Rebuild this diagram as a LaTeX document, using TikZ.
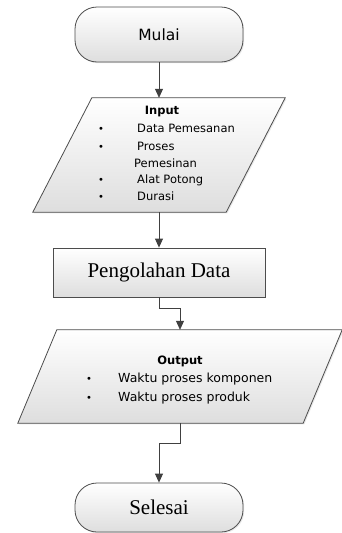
\documentclass[tikz,border=0pt]{standalone}
\usepackage{fontspec}
\setmainfont{Liberation Serif}
\newfontfamily\boxfont{DejaVu Sans}
\usetikzlibrary{calc, positioning, arrows.meta, shadows}

\newcommand{\listdot}{{\fontsize{10}{10}\selectfont\textbullet}}

\tikzset{
  flowfill/.style={draw=black!70, line width=0.8pt, top color=white, bottom color=black!13,
    drop shadow={opacity=0.18, shadow xshift=1.2pt, shadow yshift=-1.2pt}},
  terminal/.style={flowfill, rounded corners=22pt, minimum width=168pt, inner sep=0pt},
  procbox/.style={flowfill, minimum width=212pt, minimum height=49pt, inner sep=0pt},
  ioarea/.style={minimum width=#1, inner sep=0pt},
  conn/.style={draw=black!75, line width=0.8pt, -{Triangle[width=8pt,length=9pt]}},
  bigtext/.style={font=\fontsize{21}{24}\selectfont},
  listtext/.style={anchor=west, inner sep=0pt, font=\boxfont\fontsize{11.5}{14}\selectfont},
  headtext/.style={inner sep=0pt, font=\boxfont\bfseries\fontsize{11.5}{14}\selectfont}
}

\begin{document}
\begin{tikzpicture}[x=1pt, y=-1pt]
  \useasboundingbox (0,0) rectangle (342,533);

  % Start
  \node[terminal, minimum height=55pt, font=\boxfont\fontsize{15.5}{18}\selectfont] (mulai) at (159,34.5) {Mulai};

  % Input
  \node[ioarea=252pt, minimum height=114pt] (inp) at (159,155) {};
  \draw[flowfill] ($(inp.north west)+(59,0)$) -- (inp.north east)
    -- ($(inp.south east)+(-59,0)$) -- (inp.south west) -- cycle;
  \node[headtext] (inhead) at (162,112) {Input};
  \node[listtext] (in1) at (98,128) {\makebox[39pt][l]{\listdot}Data Pemesanan};
  \node[listtext] (in2) at (98,146) {\makebox[39pt][l]{\listdot}Proses};
  \node[listtext] (in3) at (134,163) {Pemesinan};
  \node[listtext] (in4) at (98,180) {\makebox[39pt][l]{\listdot}Alat Potong};
  \node[listtext] (in5) at (98,196) {\makebox[39pt][l]{\listdot}Durasi};

  % Process
  \node[procbox, bigtext] (proc) at (159,272.5) {Pengolahan Data};

  % Output
  \node[ioarea=324pt, minimum height=93pt] (out) at (180,376.5) {};
  \draw[flowfill] ($(out.north west)+(39,0)$) -- (out.north east)
    -- ($(out.south east)+(-39,0)$) -- (out.south west) -- cycle;
  \node[headtext] (outhead) at (180,361) {Output};
  \node[listtext, font=\boxfont\fontsize{12.5}{14}\selectfont] (out1) at (86,379) {\makebox[32pt][l]{\listdot}Waktu proses komponen};
  \node[listtext, font=\boxfont\fontsize{12.5}{14}\selectfont] (out2) at (86,398) {\makebox[32pt][l]{\listdot}Waktu proses produk};

  % End
  \node[terminal, minimum height=49pt, bigtext] (sel) at (159,507.5) {Selesai};

  % Connectors
  \draw[conn] (mulai) -- (inp);
  \draw[conn] (inp) -- (proc);
  \draw[conn] (proc.south) -- ++(0,11) -| (out.north);
  \draw[conn] (out.south) -- ++(0,20) -| (sel.north);
\end{tikzpicture}
\end{document}
